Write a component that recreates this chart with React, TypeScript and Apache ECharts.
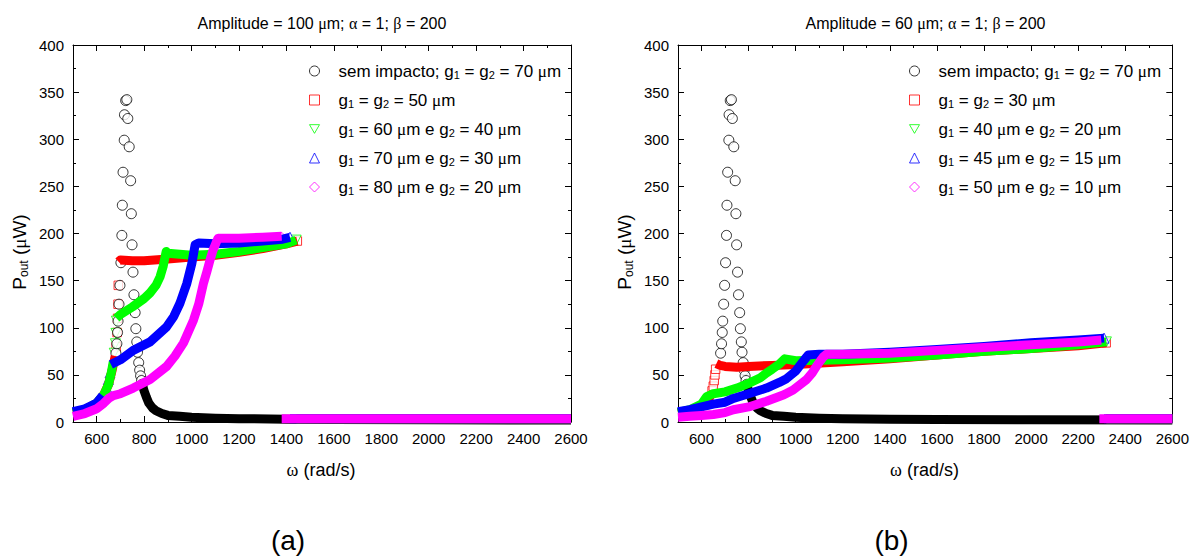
import React, { useEffect, useRef } from "react";
import * as echarts from "echarts";

// ---------------- data ----------------
const X_MIN = 500;
const X_MAX = 2600;
const X_STEP = 100;
const X_LABELS = [600, 800, 1000, 1200, 1400, 1600, 1800, 2000, 2200, 2400, 2600];
const Y_MIN = 0;
const Y_MAX = 400;
const Y_STEP = 50;

const TITLE_A = "Amplitude = 100 μm; α = 1; β = 200";
const TITLE_B = "Amplitude = 60 μm; α = 1; β = 200";
const X_NAME = "ω (rad/s)";
const PANEL_TAGS = ["(a)", "(b)"];

const LEGEND_A = [
  "sem impacto; g1 = g2 = 70 μm",
  "g1 = g2 = 50 μm",
  "g1 = 60 μm e g2 = 40 μm",
  "g1 = 70 μm e g2 = 30 μm",
  "g1 = 80 μm e g2 = 20 μm",
];
const LEGEND_B = [
  "sem impacto; g1 = g2 = 70 μm",
  "g1 = g2 = 30 μm",
  "g1 = 40 μm e g2 = 20 μm",
  "g1 = 45 μm e g2 = 15 μm",
  "g1 = 50 μm e g2 = 10 μm",
];

// no-impact curve (same in both panels)
const BLACK_PEAK = [
  [681, 73], [685, 83], [688, 95], [690, 107], [694, 125], [698, 145], [702, 169], [706, 198],
  [708, 230], [711, 265], [716, 299], [717, 326], [722, 341], [727, 342], [731, 322], [737, 292],
  [743, 256], [746, 221], [749, 188], [753, 159], [757, 135], [762, 116], [765, 99], [769, 85],
  [772, 74], [777, 63], [781, 55], [785, 49], [789, 44], [792, 40],
];
const BLACK_TAIL = [
  [792, 40], [800, 33], [810, 26], [820, 20], [835, 15], [850, 12], [875, 9], [900, 7], [950, 6],
  [1000, 5], [1100, 4], [1200, 3.5], [1400, 3], [1600, 2.6], [2000, 2.3], [2600, 2],
];

// panel (a)
const A_RED_RISE = [[500, 10], [550, 13], [600, 20], [630, 29], [650, 40], [665, 55], [678, 70]];
const A_RED_MARKS = [[682, 80], [686, 95], [688, 110], [690, 125], [691, 145], [1446, 192]];
const A_RED_BRANCH = [
  [692, 170], [700, 172], [750, 171], [800, 171], [900, 173], [1000, 175], [1100, 177],
  [1200, 180], [1300, 184], [1400, 189], [1446, 192],
];
const A_RED_LOW = [[1446, 3.5], [2600, 3.5]];

const A_GREEN_RISE = [[500, 10], [550, 13], [600, 20], [630, 29], [650, 40], [662, 53], [670, 64]];
const A_GREEN_MARKS = [[674, 73], [679, 83], [681, 94], [683, 107], [1441, 193]];
const A_GREEN_BRANCH = [
  [683, 110], [700, 114], [750, 122], [800, 131], [825, 137], [850, 145], [867, 154], [880, 165],
  [888, 175], [893, 181], [900, 179], [1000, 177], [1100, 178], [1200, 181], [1300, 185],
  [1400, 189], [1441, 193],
];
const A_GREEN_LOW = [[1441, 3.5], [2600, 3.5]];

const A_BLUE_RISE = [[500, 11], [550, 14], [600, 20], [625, 28]];
const A_BLUE_MARKS = [[633, 32], [641, 37], [649, 45], [656, 52], [1415, 196]];
const A_BLUE_BRANCH = [
  [660, 61], [700, 66], [754, 76], [825, 85], [895, 101], [925, 112], [951, 126], [980, 147],
  [1001, 168], [1015, 188], [1030, 190], [1100, 189], [1200, 190], [1300, 192], [1384, 194],
  [1415, 196],
];
const A_BLUE_LOW = [[1415, 3.5], [2600, 3.5]];

const A_MAG_BRANCH = [
  [500, 6], [550, 9], [600, 14], [630, 20], [650, 25], [670, 28], [700, 30], [754, 36], [825, 45],
  [895, 59], [930, 70], [966, 84], [1008, 108], [1030, 125], [1050, 147], [1065, 160],
  [1078, 172], [1090, 182], [1103, 190], [1112, 195], [1200, 195], [1300, 196], [1380, 197],
];
const A_MAG_MARKS = [[1380, 196]];
const A_MAG_LOW = [[1380, 3.5], [2600, 3.5]];

// panel (b)
const B_RED_RISE = [[500, 10], [550, 12], [600, 17], [630, 24], [642, 30]];
const B_RED_MARKS = [[645, 33], [650, 38], [654, 44], [657, 50], [660, 56], [2319, 84]];
const B_RED_BRANCH = [
  [663, 62], [680, 60], [700, 59], [750, 58], [800, 59], [900, 60], [1000, 61], [1200, 64],
  [1400, 67], [1600, 71], [1800, 75], [2000, 78], [2200, 81], [2319, 84],
];
const B_RED_LOW = [[2319, 3.5], [2600, 3.5]];

const B_GREEN_BRANCH = [
  [500, 10], [550, 13], [600, 19], [622, 27], [650, 30], [700, 32], [750, 36], [800, 41],
  [850, 47], [876, 52], [900, 56], [933, 62], [954, 67], [1000, 65], [1200, 66], [1400, 68],
  [1600, 71], [1800, 75], [2000, 78], [2200, 82], [2320, 85],
];
const B_GREEN_MARKS = [[2320, 85]];
const B_GREEN_LOW = [[2320, 3.5], [2600, 3.5]];

const B_BLUE_BRANCH = [
  [500, 11], [550, 13], [600, 16], [650, 19], [700, 21], [735, 25], [800, 30], [876, 36],
  [930, 42], [961, 46], [1000, 54], [1018, 60], [1040, 67], [1053, 71], [1100, 72], [1200, 72],
  [1400, 74], [1600, 77], [1800, 80], [2000, 84], [2200, 87], [2310, 89],
];
const B_BLUE_MARKS = [[2310, 89]];
const B_BLUE_LOW = [[2310, 3.5], [2600, 3.5]];

const B_MAG_BRANCH = [
  [500, 5], [550, 6], [600, 7], [650, 8], [700, 10], [735, 13], [800, 16], [876, 22], [950, 29],
  [989, 34], [1046, 45], [1070, 52], [1088, 59], [1105, 65], [1117, 69], [1131, 72], [1200, 72],
  [1400, 73], [1600, 76], [1800, 79], [2000, 82], [2200, 85], [2298, 87],
];
const B_MAG_MARKS = [[2298, 87]];
const B_MAG_LOW = [[2290, 3.5], [2600, 3.5]];

// ---------------- styling ----------------
const FONT = 'Arial, "Liberation Sans", Helvetica, sans-serif';
const SERIF = '"Liberation Serif", "Times New Roman", "DejaVu Serif", serif';
const COLORS = ["#000000", "#ff0000", "#00ff00", "#0000ff", "#ff00ff"];
const TRI_DOWN = "path://M0,0L10,0L5,8.66Z";
const SYMBOLS = ["circle", "rect", TRI_DOWN, "triangle", "diamond"];
const SIZES = [10, 8.5, 10, 10, 10];
const BAND_W = 9;

const GRIDS = [
  { left: 73, top: 45, width: 498, height: 377 },
  { left: 678, top: 45, width: 495, height: 377 },
];

function richify(s: string) {
  return s.replace(/g([12])/g, "g{s|$1}").replace(/([μαβω])/g, "{u|$1}");
}

function xAxesFor(gridIndex: number) {
  const base = {
    type: "value",
    gridIndex,
    min: X_MIN,
    max: X_MAX,
    interval: X_STEP,
    splitLine: { show: false },
  };
  const main = (position: string, labels: boolean) => ({
    ...base,
    position,
    axisLine: { show: true, onZero: false, lineStyle: { color: "#000", width: 1 } },
    axisTick: { show: true, inside: true, length: 6, customValues: X_LABELS, lineStyle: { color: "#000" } },
    axisLabel: labels
      ? {
          show: true,
          customValues: X_LABELS,
          formatter: (v: number) => (X_LABELS.indexOf(v) >= 0 ? String(v) : ""),
          margin: 9,
          color: "#000",
          fontSize: 15,
          fontFamily: FONT,
        }
      : { show: false },
  });
  const minor = (position: string) => ({
    ...base,
    position,
    axisLine: { show: false, onZero: false },
    axisTick: { show: true, inside: true, length: 3, lineStyle: { color: "#000" } },
    axisLabel: { show: false },
  });
  return [main("bottom", true), main("top", false), minor("bottom"), minor("top")];
}

function yAxesFor(gridIndex: number) {
  const mk = (position: string, labels: boolean) => ({
    type: "value",
    gridIndex,
    position,
    min: Y_MIN,
    max: Y_MAX,
    interval: Y_STEP,
    splitLine: { show: false },
    axisLine: { show: true, onZero: false, lineStyle: { color: "#000", width: 1 } },
    axisTick: { show: true, inside: true, length: 6, lineStyle: { color: "#000" } },
    minorTick: { show: true, splitNumber: 2, length: 3, lineStyle: { color: "#000" } },
    axisLabel: labels
      ? { show: true, margin: 9, color: "#000", fontSize: 15, fontFamily: FONT }
      : { show: false },
  });
  return [mk("left", true), mk("right", false)];
}

function band(data: number[][], color: string, xi: number, yi: number) {
  return {
    type: "line",
    data,
    xAxisIndex: xi,
    yAxisIndex: yi,
    symbol: "none",
    showSymbol: false,
    lineStyle: { color, width: BAND_W, join: "round" },
    itemStyle: { color },
    silent: true,
    clip: true,
  };
}

function marks(name: string, data: number[][], ci: number, xi: number, yi: number) {
  return {
    type: "scatter",
    name,
    data,
    xAxisIndex: xi,
    yAxisIndex: yi,
    symbol: SYMBOLS[ci],
    symbolSize: SIZES[ci],
    itemStyle: { color: "#ffffff", borderColor: COLORS[ci], borderWidth: 1 },
    silent: true,
    clip: true,
  };
}

function panelSeries(
  p: number,
  names: string[],
  curves: { bands: number[][][]; marks: number[][] }[]
) {
  const xi = p * 4;
  const yi = p * 2;
  const out: any[] = [band(BLACK_TAIL, COLORS[0], xi, yi)];
  curves.forEach((c, k) => {
    const ci = k + 1;
    c.bands.forEach((b) => out.push(band(b, COLORS[ci], xi, yi)));
    out.push(marks(names[ci], c.marks, ci, xi, yi));
  });
  out.push(marks(names[0], BLACK_PEAK, 0, xi, yi));
  return out;
}

function legendFor(names: string[], left: number) {
  return {
    orient: "vertical",
    left,
    top: 61,
    padding: 0,
    itemGap: 9,
    itemWidth: 10,
    itemHeight: 10,
    selectedMode: false,
    data: names.map((n, i) => ({
      name: n,
      icon: SYMBOLS[i],
      itemStyle: { color: "rgba(255,255,255,0)", borderColor: COLORS[i], borderWidth: 1 },
    })),
    formatter: (n: string) => richify(n),
    textStyle: {
      color: "#000",
      fontSize: 17,
      fontFamily: FONT,
      lineHeight: 20,
      padding: [0, 0, 0, 14],
      rich: {
        s: { fontSize: 11, lineHeight: 11, fontFamily: FONT, color: "#000", padding: [8, 0, 0, 0] },
        u: { fontSize: 17, lineHeight: 20, fontFamily: SERIF, color: "#000" },
      },
    },
  };
}

function textEl(x: number, y: number, text: string, size: number, rotation = 0) {
  return {
    type: "text",
    x,
    y,
    rotation,
    silent: true,
    style: {
      text,
      fontSize: size,
      fontFamily: FONT,
      fill: "#000",
      align: "center",
      verticalAlign: "middle",
      textAlign: "center",
      textVerticalAlign: "middle",
      rich: {
        s: { fontSize: Math.round(size * 0.62), fontFamily: FONT, fill: "#000", padding: [Math.round(size * 0.45), 0, 0, 0] },
        u: { fontSize: size, fontFamily: SERIF, fill: "#000" },
      },
    },
  };
}

function buildOption() {
  const seriesA = panelSeries(0, LEGEND_A, [
    { bands: [A_RED_RISE, A_RED_BRANCH, A_RED_LOW], marks: A_RED_MARKS },
    { bands: [A_GREEN_RISE, A_GREEN_BRANCH, A_GREEN_LOW], marks: A_GREEN_MARKS },
    { bands: [A_BLUE_RISE, A_BLUE_BRANCH, A_BLUE_LOW], marks: A_BLUE_MARKS },
    { bands: [A_MAG_BRANCH, A_MAG_LOW], marks: A_MAG_MARKS },
  ]);
  const seriesB = panelSeries(1, LEGEND_B, [
    { bands: [B_RED_RISE, B_RED_BRANCH, B_RED_LOW], marks: B_RED_MARKS },
    { bands: [B_GREEN_BRANCH, B_GREEN_LOW], marks: B_GREEN_MARKS },
    { bands: [B_BLUE_BRANCH, B_BLUE_LOW], marks: B_BLUE_MARKS },
    { bands: [B_MAG_BRANCH, B_MAG_LOW], marks: B_MAG_MARKS },
  ]);

  const graphic: any[] = [];
  const titles = [TITLE_A, TITLE_B];
  GRIDS.forEach((g, i) => {
    const cx = g.left + g.width / 2;
    graphic.push(textEl(cx, 23, richify(titles[i]), 16));
    graphic.push(textEl(cx - 1, 470, richify(X_NAME), 18));
    graphic.push(textEl(cx - 34, 540, PANEL_TAGS[i], 28));
    graphic.push(textEl(g.left - 54, 252, "P{s|out} ({u|μ}W)", 19, Math.PI / 2));
  });

  return {
    animation: false,
    backgroundColor: "#ffffff",
    grid: GRIDS.map((g) => ({ ...g, containLabel: false })),
    xAxis: [...xAxesFor(0), ...xAxesFor(1)],
    yAxis: [...yAxesFor(0), ...yAxesFor(1)],
    legend: [legendFor(LEGEND_A, 309), legendFor(LEGEND_B, 909)],
    series: [...seriesA, ...seriesB],
    graphic,
  };
}

export default function App() {
  const ref = useRef<HTMLDivElement>(null);
  useEffect(() => {
    if (!ref.current) return;
    const chart = echarts.init(ref.current, undefined, { renderer: "svg" });
    chart.setOption(buildOption() as any);
    return () => chart.dispose();
  }, []);
  return (
    <div
      ref={ref}
      style={{ position: "absolute", left: 0, top: 0, width: 1192, height: 557, background: "#fff" }}
    />
  );
}
